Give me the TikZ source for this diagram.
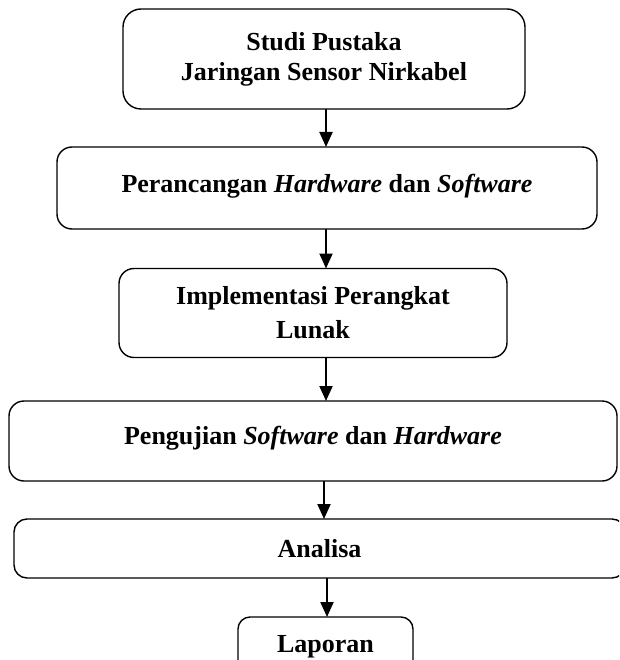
\documentclass[tikz,border=0pt]{standalone}
\usepackage{fontspec}
\setmainfont{Liberation Serif}
\usetikzlibrary{arrows.meta}
\begin{document}
\begin{tikzpicture}[x=1pt,y=-1pt,
  box/.style={draw,line width=1.4pt,rounded corners=15pt,inner sep=0pt,outer sep=0pt,align=center,
    font=\fontsize{26}{30}\selectfont\bfseries},
  arr/.style={line width=2pt,-{Triangle[width=13pt,length=15pt]}}]
\useasboundingbox (0,0) rectangle (619,660);
\clip (0,0) rectangle (619,660);
\node[box,rounded corners=18pt,minimum width=402pt,minimum height=100pt] (b1) at (324,59)
  {Studi Pustaka\\Jaringan Sensor Nirkabel};
\node[box,minimum width=540pt,minimum height=82pt] (b2) at (327,188)
  {\raisebox{9pt}{Perancangan \textit{Hardware} dan \textit{Software}}};
\node[box,minimum width=388pt,minimum height=89pt,font=\fontsize{26}{34}\selectfont\bfseries] (b3) at (313,313)
  {\raisebox{-3pt}{Implementasi Perangkat}\\\raisebox{-3pt}{Lunak}};
\node[box,minimum width=608pt,minimum height=80pt] (b4) at (313,441)
  {\raisebox{11pt}{Pengujian \textit{Software} dan \textit{Hardware}}};
\node[box,rounded corners=13pt,minimum width=611pt,minimum height=59pt] (b5) at (319.5,548.5)
  {Analisa};
\node[box,rounded corners=12pt,minimum width=175pt,minimum height=60pt] (b6) at (325.5,647)
  {Laporan};
\coordinate (a1) at (326,0);
\coordinate (a4) at (324,0);
\coordinate (a5) at (327,0);
\draw[arr] (b1.south -| a1) -- (b2.north -| a1);
\draw[arr] (b2.south -| a1) -- (b3.north -| a1);
\draw[arr] (b3.south -| a1) -- (b4.north -| a1);
\draw[arr] (b4.south -| a4) -- (b5.north -| a4);
\draw[arr] (b5.south -| a5) -- (b6.north -| a5);
\end{tikzpicture}
\end{document}
